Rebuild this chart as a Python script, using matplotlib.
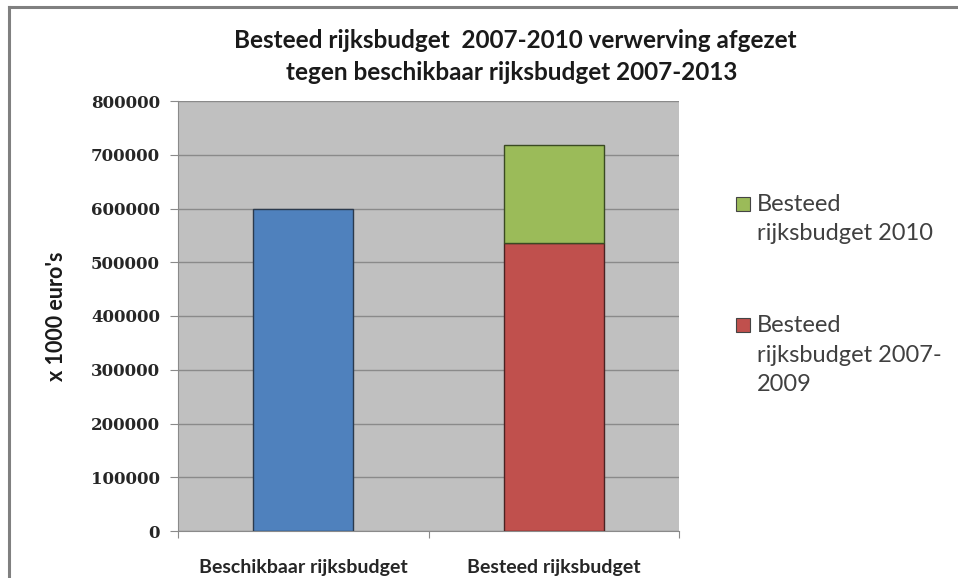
import matplotlib
matplotlib.use("Agg")
import matplotlib.pyplot as plt
from matplotlib.patches import Rectangle

categories = ["Beschikbaar rijksbudget", "Besteed rijksbudget"]
beschikbaar = [600000, 0]
besteed_2007_2009 = [0, 535000]
besteed_2010 = [0, 183000]
yticks = [0, 100000, 200000, 300000, 400000, 500000, 600000, 700000, 800000]
legend_labels = ["Besteed\nrijksbudget 2010", "Besteed\nrijksbudget 2007-\n2009"]

blue = "#4F81BD"
red = "#C0504D"
green = "#9BBB59"

W, H = 958, 578
fig = plt.figure(figsize=(W/100, H/100), dpi=100)
fig.patch.set_facecolor("white")
# outer frame lines (top and left)
fig.add_artist(plt.Line2D([8.5/W, 8.5/W], [0, 1 - 6.5/H], transform=fig.transFigure, color="#808080", lw=2.2))
fig.add_artist(plt.Line2D([8.5/W, 1], [1 - 6.5/H, 1 - 6.5/H], transform=fig.transFigure, color="#808080", lw=2.2))

ax = fig.add_axes([178/W, (H-531)/H, (679-178)/W, (531-101)/H])
ax.set_facecolor("#C0C0C0")
x = [0, 1]
w = 0.40
ax.bar(x[0], beschikbaar[0], width=w, color=blue, edgecolor="#2b3a4d", linewidth=1.0, zorder=3)
ax.bar(x[1], besteed_2007_2009[1], width=w, color=red, edgecolor="#4a2222", linewidth=1.0, zorder=3)
ax.bar(x[1], besteed_2010[1], bottom=besteed_2007_2009[1], width=w, color=green, edgecolor="#3a4a22", linewidth=1.0, zorder=3)

ax.set_xlim(-0.5, 1.5)
ax.set_ylim(0, 800000)
ax.set_yticks(yticks)
ax.set_yticklabels([str(v) for v in yticks], fontfamily="DejaVu Serif", fontweight="bold", fontsize=12, color="#262626")
ax.yaxis.grid(True, color="#8a8a8a", lw=1.0, zorder=1)
ax.set_axisbelow(True)
ax.tick_params(axis="y", length=6, color="#8a8a8a", pad=7)

ax.set_xticks([-0.5, 0.5, 1.5])
ax.set_xticklabels([])
ax.set_xticks([0, 1], minor=True)
ax.set_xticklabels(categories, minor=True, fontfamily="Lato", fontweight="bold", fontsize=14, color="#262626")
ax.tick_params(axis="x", which="major", length=5, color="#8a8a8a")
ax.tick_params(axis="x", which="minor", length=0, pad=20)

for s in ["top", "right"]:
    ax.spines[s].set_visible(False)
ax.spines["left"].set_color("#8a8a8a")
ax.spines["bottom"].set_color("#8a8a8a")

ax.set_ylabel("x 1000 euro's", fontfamily="Lato", fontweight="bold", fontsize=15.5, color="#1a1a1a", labelpad=17)

fig.text(515/W, 1 - 40/H, "Besteed rijksbudget  2007-2010 verwerving afgezet",
         ha="center", va="center", fontfamily="Lato", fontweight="bold", fontsize=17.5, color="#1a1a1a")
fig.text(512/W, 1 - 72/H, "tegen beschikbaar rijksbudget 2007-2013",
         ha="center", va="center", fontfamily="Lato", fontweight="bold", fontsize=17.5, color="#1a1a1a")

# legend drawn manually: square aligned with first line of each label
legend_colors = [green, red]
legend_square_tops = [197, 318]
for lab, col, yt in zip(legend_labels, legend_colors, legend_square_tops):
    fig.add_artist(Rectangle((736/W, 1 - (yt + 14)/H), 14/W, 14/H, transform=fig.transFigure,
                             facecolor=col, edgecolor="#444444", lw=0.8))
    fig.text(757/W, 1 - (yt - 3)/H, lab, ha="left", va="top", fontfamily="Lato", fontsize=17,
             color="#404040", linespacing=1.5)

fig.savefig("out.png", dpi=100)
